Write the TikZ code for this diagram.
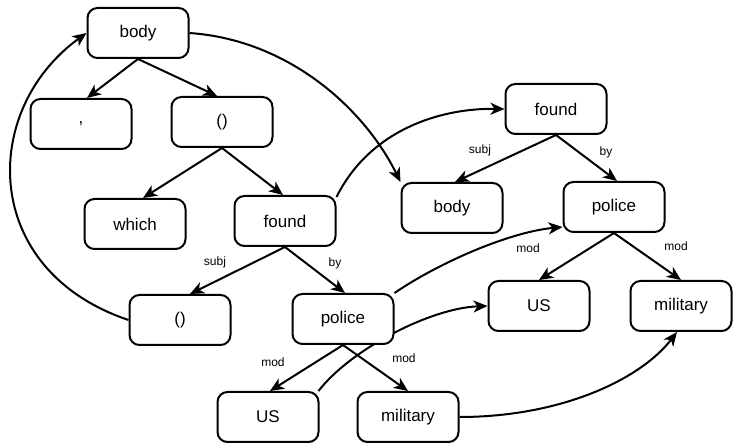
\documentclass[tikz,border=0pt]{standalone}
\usepackage{fontspec}
\setmainfont{Liberation Sans}
\usetikzlibrary{arrows.meta,backgrounds}
\begin{document}
\begin{tikzpicture}[x=1pt,y=-1pt,
  box/.style={draw, line width=2pt, rounded corners=10pt, minimum width=101pt, minimum height=50pt, fill=white, font=\fontsize{17}{20}\selectfont},
  lbl/.style={font=\fontsize{12}{14}\selectfont, inner sep=0pt},
  arr/.style={line width=2pt, -{Stealth[length=14pt,width=12pt,inset=4pt]}}]
\useasboundingbox (0,0) rectangle (734,443);
% left tree
\node[box] (body) at (138,33) {body};
\node[box] (comma) at (81,124) {,};
\node[box] (paren1) at (222,122) {()};
\node[box] (which) at (135,224) {which};
\node[box] (foundl) at (285,221) {found};
\node[box] (paren2) at (180,320) {()};
\node[box] (policel) at (343,319) {police};
\node[box] (usl) at (268,417) {US};
\node[box] (mill) at (408,417) {military};
% right tree
\node[box] (foundr) at (556,109) {found};
\node[box] (bodyr) at (452,208) {body};
\node[box] (policer) at (614,207) {police};
\node[box] (usr) at (539,306) {US};
\node[box] (milr) at (681,306) {military};
% labels
\node[lbl] (l1) at (215,262) {subj};
\node[lbl] (l2) at (335,263) {by};
\node[lbl] (l3) at (273,362) {mod};
\node[lbl] (l4) at (404,358) {mod};
\node[lbl] (l5) at (480,150) {subj};
\node[lbl] (l6) at (606,152) {by};
\node[lbl] (l7) at (528,248) {mod};
\node[lbl] (l8) at (676,246) {mod};
% tree edges
\draw[arr] (body.south) -- ([xshift=6pt]comma.north);
\draw[arr] (body.south) -- ([xshift=-5pt]paren1.north);
\draw[arr] (paren1.south) -- ([xshift=8pt]which.north);
\draw[arr] (paren1.south) -- ([xshift=-2pt]foundl.north);
\draw[arr] (foundl.south) -- ([xshift=10pt]paren2.north);
\draw[arr] (foundl.south) -- ([xshift=2pt]policel.north);
\draw[arr] (policel.south) -- ([xshift=2pt]usl.north);
\draw[arr] (policel.south) -- (mill.north);
\draw[arr] (foundr.south) -- ([xshift=3pt]bodyr.north);
\draw[arr] (foundr.south) -- ([xshift=3pt]policer.north);
\draw[arr] (policer.south) -- (usr.north);
\draw[arr] (policer.south) -- (milr.north);
% alignment curves
\begin{scope}[on background layer]
\draw[arr] (paren2.west) .. controls (-20,270) and (-20,110) .. (body.west);
\draw[arr] (body.east) .. controls (290,40) and (365,110) .. (bodyr.north west);
\draw[arr] ([yshift=-2pt]foundl.north east) .. controls (370,130) and (440,108) .. (foundr.west);
\draw[arr] (policel.north east) .. controls (440,262) and (510,232) .. ([yshift=-20pt]policer.west);
\draw[arr] ([xshift=-1pt]usl.north east) .. controls (350,350) and (430,308) .. (usr.west);
\draw[arr] (mill.east) .. controls (560,417) and (640,380) .. ([xshift=-4pt]milr.south);
\end{scope}
\end{tikzpicture}
\end{document}
